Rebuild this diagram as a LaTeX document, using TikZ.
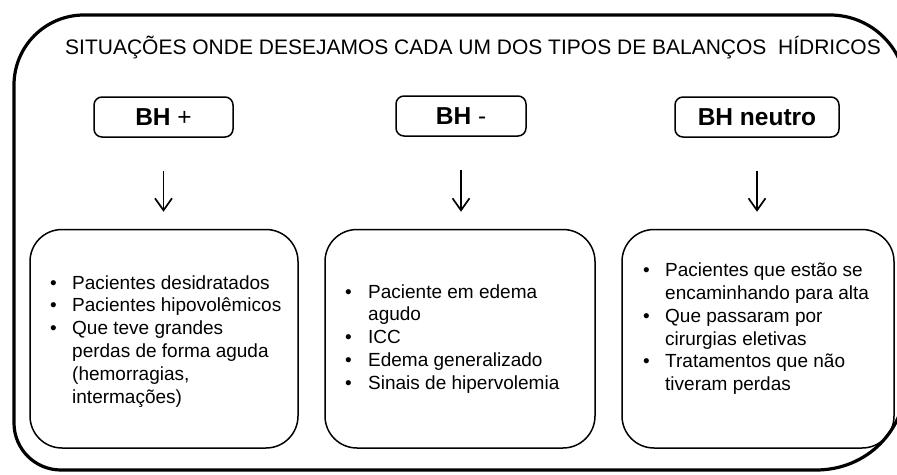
\documentclass[tikz,border=0pt]{standalone}
\usepackage{fontspec}
\setmainfont{Liberation Sans}
\usetikzlibrary{arrows.meta}
\begin{document}
\begin{tikzpicture}[x=1pt,y=-1pt,
  bhbox/.style={draw, line width=1.5pt, rounded corners=8pt, minimum height=40pt, inner sep=0pt, font=\fontsize{24.5}{28}\selectfont},
  bigbox/.style={draw, line width=1.5pt, rounded corners=32pt, minimum height=218.5pt, inner sep=0pt},
  listtext/.style={anchor=base west, inner sep=0pt, font=\fontsize{19}{22.8}\selectfont},
  arr/.style={line width=1.7pt, -{Straight Barb[length=12pt,width=17pt]}, shorten <=33pt, shorten >=17pt},
  frame/.style={line width=3.2pt}]
\useasboundingbox (0,0) rectangle (897,474);
\clip (0,0) rectangle (897,474);
% outer frame
\draw[frame] (14,240) -- (14,85)
  .. controls (14,46.3) and (45.3,15) .. (84,15)
  -- (830,15)
  .. controls (872,15) and (906,49) .. (906,91)
  -- (906,380)
  .. controls (906,430.7) and (866.7,470) .. (816,470)
  -- (61,470)
  .. controls (35,470) and (14,449) .. (14,423) -- cycle;
% title
\node[anchor=base west, inner sep=0pt, font=\fontsize{21}{24}\selectfont] (title) at (65,54.3)
  {SITUAÇÕES ONDE DESEJAMOS CADA UM DOS TIPOS DE BALANÇOS\ \ HÍDRICOS};
% header boxes
\node[bhbox, minimum width=139pt] (b1) at (163.5,117) {\textbf{BH} +};
\node[bhbox, minimum width=130pt] (b2) at (461,116) {\textbf{BH} -};
\node[bhbox, minimum width=164pt] (b3) at (757,117) {\textbf{BH neutro}};
% big boxes
\node[bigbox, minimum width=268pt] (c1) at (164,338.75) {};
\node[bigbox, minimum width=270pt] (c2) at (460,338.75) {};
\node[bigbox, minimum width=272pt] (c3) at (758,338.75) {};
% arrows
\draw[arr] (b1.south) -- (b1.south |- c1.north);
\draw[arr] (b2.south) -- (b2.south |- c2.north);
\draw[arr] (b3.south) -- (b3.south |- c3.north);
% lists
\node[listtext] (l1) at (50,289) {\begin{tabular}[t]{@{}p{22pt}@{}l@{}}
\textbullet & Pacientes desidratados\\
\textbullet & Pacientes hipovolêmicos\\
\textbullet & Que teve grandes\\
 & perdas de forma aguda\\
 & (hemorragias,\\
 & intermações)
\end{tabular}};
\node[listtext] (l2) at (345,298) {\begin{tabular}[t]{@{}p{23pt}@{}l@{}}
\textbullet & Paciente em edema\\
 & agudo\\
\textbullet & ICC\\
\textbullet & Edema generalizado\\
\textbullet & Sinais de hipervolemia
\end{tabular}};
\node[listtext] (l3) at (643,276.7) {\begin{tabular}[t]{@{}p{22pt}@{}l@{}}
\textbullet & Pacientes que estão se\\
 & encaminhando para alta\\
\textbullet & Que passaram por\\
 & cirurgias eletivas\\
\textbullet & Tratamentos que não\\
 & tiveram perdas
\end{tabular}};
\end{tikzpicture}
\end{document}
